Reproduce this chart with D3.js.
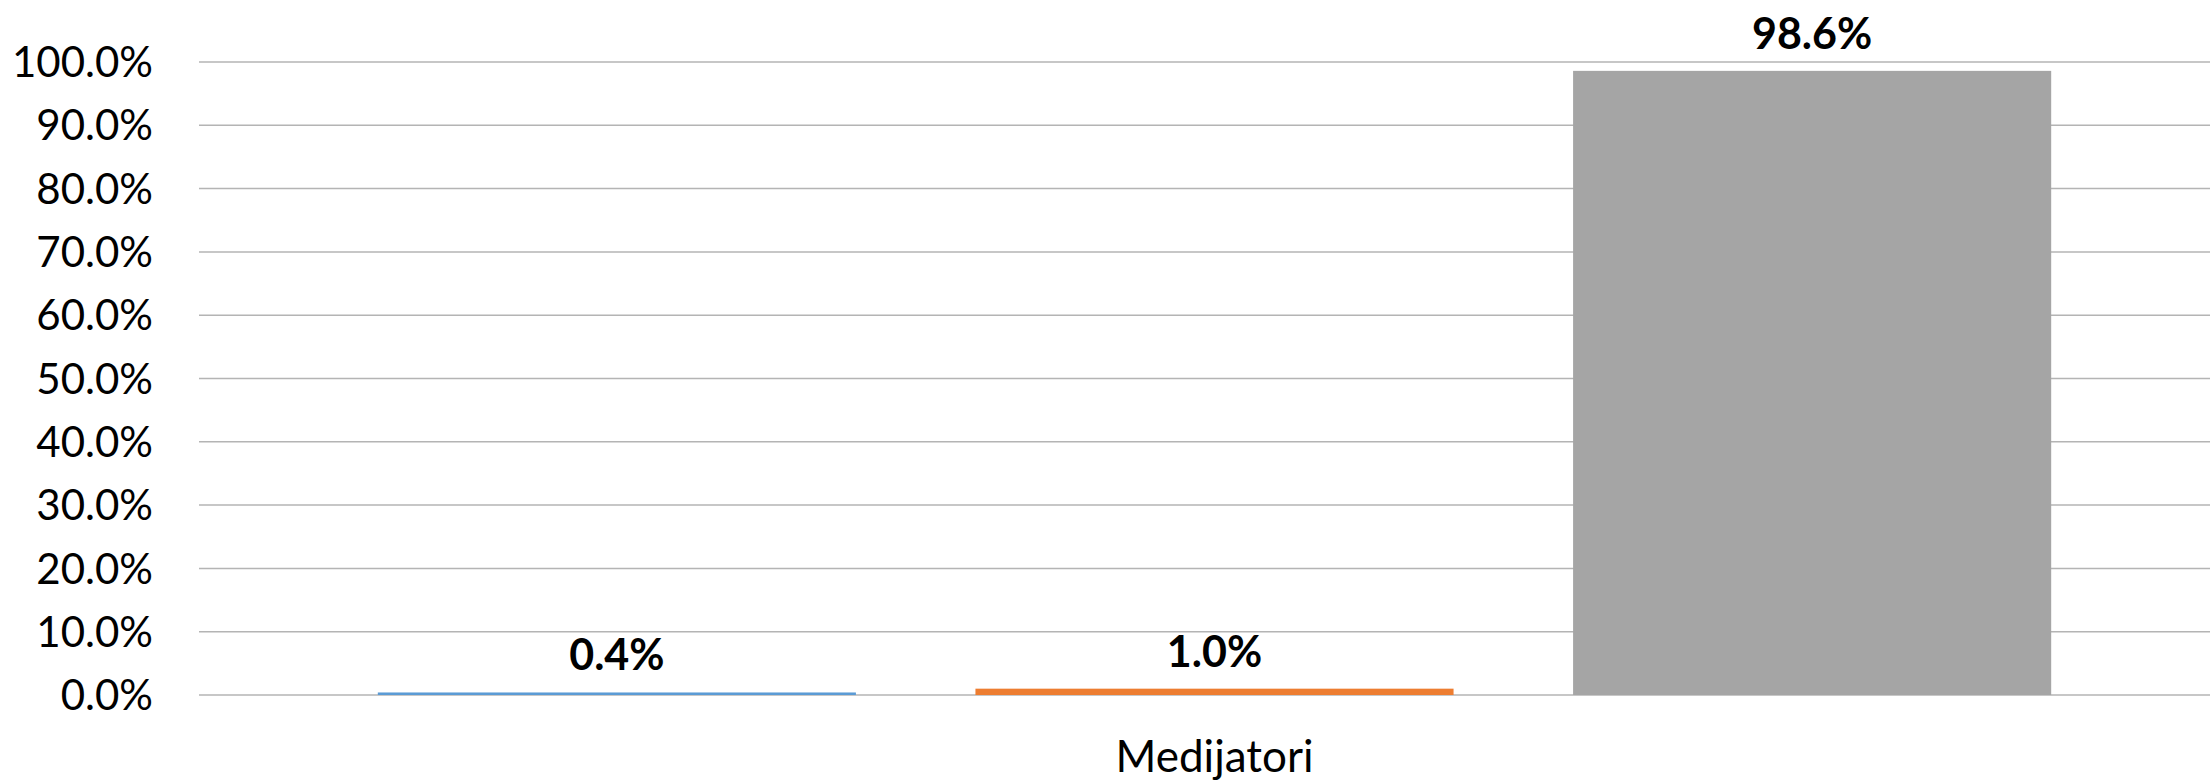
<!DOCTYPE html>
<html>
<head>
<meta charset="utf-8">
<script src="https://cdn.jsdelivr.net/npm/d3@7"></script>
<style>
  body { margin: 0; background: #fff; }
  text { font-family: Lato, "Noto Sans", sans-serif; }
</style>
</head>
<body>
<div id="chart"></div>
<script>
var categories = ["Medijatori"];
var series = ["S1", "S2", "S3"];
var values = [0.4, 1.0, 98.6];
var colors = ["#5B9BD5", "#ED7D31", "#A5A5A5"];
var yTicks = [0, 10, 20, 30, 40, 50, 60, 70, 80, 90, 100];

var elWidth = 2210, elHeight = 781;
var margin = {top: 62, right: -20, bottom: 86, left: 199};
var width = elWidth - margin.left - margin.right;
var height = elHeight - margin.top - margin.bottom;

var svg = d3.select("#chart").append("svg")
	.attr("width", elWidth)
	.attr("height", elHeight);
var g = svg.append("g").attr("transform", "translate(" + margin.left + "," + margin.top + ")");

var x0 = d3.scaleBand().domain(categories).range([0, width]).paddingInner(0).paddingOuter(0.0664);
var x1 = d3.scaleBand().domain(series).range([0, x0.bandwidth()]).paddingInner(0.2).paddingOuter(0.1);
var y = d3.scaleLinear().domain([0, 100]).range([height, 0]);

// gridlines
g.append("g")
	.selectAll("line")
	.data(yTicks)
	.enter().append("line")
	.attr("x1", 0)
	.attr("x2", width)
	.attr("y1", function(d) { return y(d); })
	.attr("y2", function(d) { return y(d); })
	.attr("stroke", "#B4B4B4")
	.attr("stroke-width", 1.5);

// y tick labels
g.append("g")
	.selectAll("text")
	.data(yTicks)
	.enter().append("text")
	.attr("x", -46)
	.attr("y", function(d) { return y(d); })
	.attr("dy", "0.36em")
	.attr("text-anchor", "end")
	.attr("font-size", 42)
	.attr("fill", "#000")
	.text(function(d) { return d3.format(".1f")(d) + "%"; });

var grp = g.append("g").attr("transform", "translate(" + x0(categories[0]) + ",0)");

grp.selectAll("rect")
	.data(values)
	.enter().append("rect")
	.attr("x", function(d, i) { return x1(series[i]); })
	.attr("width", x1.bandwidth())
	.attr("y", function(d) { return y(d); })
	.attr("height", function(d) { return height - y(d); })
	.attr("fill", function(d, i) { return colors[i]; });

grp.selectAll("text.lbl")
	.data(values)
	.enter().append("text")
	.attr("class", "lbl")
	.attr("x", function(d, i) { return x1(series[i]) + x1.bandwidth() / 2; })
	.attr("y", function(d) { return y(d) - 22; })
	.attr("text-anchor", "middle")
	.attr("font-size", 43)
	.attr("font-weight", "bold")
	.attr("fill", "#000")
	.text(function(d) { return d3.format(".1f")(d) + "%"; });

// category label
g.append("text")
	.attr("x", x0(categories[0]) + x0.bandwidth() / 2)
	.attr("y", height + 77)
	.attr("text-anchor", "middle")
	.attr("font-size", 44)
	.attr("fill", "#000")
	.text(categories[0]);
</script>
</body>
</html>
